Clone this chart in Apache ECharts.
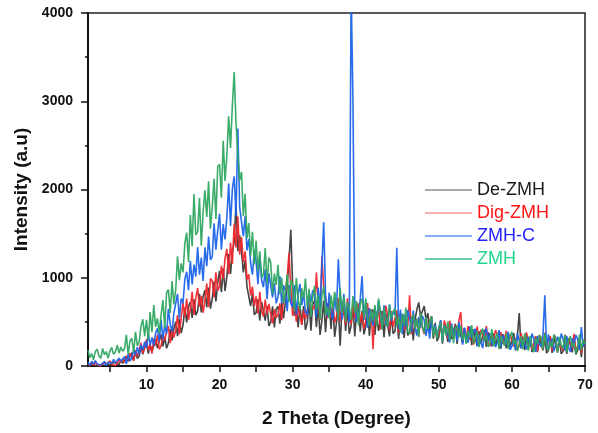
<!DOCTYPE html>
<html>
<head>
<meta charset="utf-8">
<script src="https://cdn.jsdelivr.net/npm/echarts@6/dist/echarts.min.js"></script>
<style>
html,body{margin:0;padding:0;background:#fff;}
#chart{width:598px;height:433px;}
</style>
</head>
<body>
<div id="chart"></div>
<script>
// 2θ sampling positions (degrees)
const theta = [
2,2.25,2.5,2.75,3,3.25,3.5,3.75,4,4.25,4.5,4.75,5,5.25,5.5,5.75,6,6.25,6.5,6.75,
7,7.25,7.5,7.75,8,8.25,8.5,8.75,9,9.25,9.5,9.75,10,10.25,10.5,10.75,11,11.25,11.5,11.75,
12,12.25,12.5,12.75,13,13.25,13.5,13.75,14,14.25,14.5,14.75,15,15.25,15.5,15.75,16,16.25,16.5,16.75,
17,17.25,17.5,17.75,18,18.25,18.5,18.75,19,19.25,19.5,19.75,20,20.25,20.5,20.75,21,21.25,21.5,21.75,
22,22.25,22.5,22.75,23,23.25,23.5,23.75,24,24.25,24.5,24.75,25,25.25,25.5,25.75,26,26.25,26.5,26.75,
27,27.25,27.5,27.75,28,28.25,28.5,28.75,29,29.25,29.5,29.75,30,30.25,30.5,30.75,31,31.25,31.5,31.75,
32,32.25,32.5,32.75,33,33.25,33.5,33.75,34,34.25,34.5,34.75,35,35.25,35.5,35.75,36,36.25,36.5,36.75,
37,37.25,37.5,37.75,38,38.25,38.5,38.75,39,39.25,39.5,39.75,40,40.25,40.5,40.75,41,41.25,41.5,41.75,
42,42.25,42.5,42.75,43,43.25,43.5,43.75,44,44.25,44.5,44.75,45,45.25,45.5,45.75,46,46.25,46.5,46.75,
47,47.25,47.5,47.75,48,48.25,48.5,48.75,49,49.25,49.5,49.75,50,50.25,50.5,50.75,51,51.25,51.5,51.75,
52,52.25,52.5,52.75,53,53.25,53.5,53.75,54,54.25,54.5,54.75,55,55.25,55.5,55.75,56,56.25,56.5,56.75,
57,57.25,57.5,57.75,58,58.25,58.5,58.75,59,59.25,59.5,59.75,60,60.25,60.5,60.75,61,61.25,61.5,61.75,
62,62.25,62.5,62.75,63,63.25,63.5,63.75,64,64.25,64.5,64.75,65,65.25,65.5,65.75,66,66.25,66.5,66.75,
67,67.25,67.5,67.75,68,68.25,68.5,68.75,69,69.25,69.5,69.75,
70
];

// De-ZMH intensity (a.u)
const deZMH = [
20,2,25,5, 5,22,0,18, 25,3,30,8, 10,35,15,38, 55,18,62,30,
37,105,52,112, 152,62,167,84, 112,217,134,209, 260,140,245,162, 180,300,202,285,
357,222,327,200, 260,418,290,425, 502,337,532,374, 464,659,494,674, 725,545,755,575,
622,817,606,787, 859,664,889,649, 761,956,731,941, 1077,836,1107,851, 1012,1267,1042,1297,
1400,1840,1300,1480, 1300,1060,1200,900, 900,680,820,580, 605,755,515,725, 710,515,680,455,
497,677,437,647, 674,479,719,539, 720,900,1200,1545, 900,570,700,440, 694,469,679,409,
489,744,399,699, 741,441,696,351, 517,742,382,697, 720,420,690,330, 490,680,230,660,
696,396,651,366, 455,695,335,635, 674,389,629,359, 447,657,342,612, 637,352,592,397,
415,625,325,595, 605,335,575,365, 396,606,306,561, 587,317,542,347, 380,560,290,530,
640,720,560,620, 680,520,600,400, 520,310,490,280, 329,509,254,479, 485,275,455,305,
296,477,251,447, 454,259,424,274, 265,445,235,415, 422,227,392,257, 247,412,217,382,
401,221,371,236, 227,392,197,362, 381,201,351,216, 207,372,177,342, 600,200,330,180,
355,190,325,160, 202,337,157,322, 342,177,312,147, 179,329,149,314, 332,167,302,137,
166,331,136,316, 334,154,304,132, 180,300,100,290,
220
];

// Dig-ZMH intensity (a.u)
const digZMH = [
30,0,42,8, 40,15,27,0, 10,45,20,38, 57,18,39,6, 32,71,46,78,
40,118,66,144, 157,61,181,109, 126,261,144,207, 301,178,244,140, 313,229,355,187,
227,359,293,392, 453,258,414,323, 403,577,359,548, 716,556,764,524, 648,840,578,770,
883,673,795,603, 744,934,668,991, 967,777,1062,853, 904,1135,988,1219, 1326,1038,1398,1158,
1612,1342,1693,1261, 1460,1180,1300,980, 1040,800,900,680, 788,595,840,630, 560,752,592,704,
706,482,642,546, 582,710,518,758, 820,1000,1280,880, 566,726,502,678, 660,468,628,532,
524,748,604,684, 640,1060,720,520, 1240,880,780,540, 772,545,702,492, 560,770,507,717,
697,470,767,575, 471,692,539,658, 711,490,609,422, 509,713,458,645, 190,650,480,680,
412,604,508,684, 573,413,621,445, 450,630,375,585, 600,405,525,450, 800,360,570,410,
538,335,581,436, 363,552,407,508, 566,363,450,319, 366,501,299,515, 446,311,513,365,
311,460,365,514, 610,275,430,310, 451,295,386,243, 306,449,254,410, 413,283,452,257,
226,358,298,406, 360,204,384,252, 266,398,218,362, 367,223,319,187, 228,372,264,336,
378,234,318,186, 205,337,169,349, 308,188,380,236, 220,340,172,352, 324,156,288,204,
176,356,224,308, 329,197,365,161, 230,314,146,290,
230
];

// ZMH-C intensity (a.u)
const zmhC = [
45,3,54,21, 62,23,41,11, 24,51,3,42, 63,30,75,36, 39,88,56,78,
106,22,134,57, 92,186,126,212, 133,238,181,276, 204,369,237,325, 231,374,426,283,
522,304,464,362, 648,472,392,600, 590,818,538,765, 711,984,1068,858, 1193,923,1148,1013,
1348,1036,1228,964, 1346,1130,1466,1202, 1238,1616,1319,1535, 1724,1318,1608,1434, 1684,2068,1588,2004,
2150,1700,2690,1800, 1790,1470,1700,1310, 1439,1169,1034,1304, 1190,926,1262,974, 893,1095,758,1050,
1070,778,935,710, 788,1019,704,914, 853,622,916,706, 665,917,581,812, 930,690,830,610,
580,840,720,860, 790,550,890,650, 670,1630,810,560, 833,605,529,776, 623,1210,794,528,
817,551,684,494, 4300,3000,730,500, 556,760,1020,519, 711,434,656,563, 458,668,528,738,
600,425,688,495, 443,698,511,613, 580,1340,420,640, 361,585,441,633, 549,389,629,437,
345,555,435,570, 520,340,475,310, 555,367,469,338, 333,521,289,463, 469,361,266,483,
321,443,281,497, 397,241,436,319, 265,447,317,395, 421,226,356,265, 203,372,424,281,
370,238,322,214, 264,408,216,348, 362,242,386,182, 222,318,186,366, 384,204,300,240,
188,332,224,368, 304,160,340,244, 220,352,800,196, 358,226,310,166, 188,332,236,368,
306,174,342,210, 160,316,244,352, 300,180,440,220,
260
];

// ZMH intensity (a.u)
const zmh = [
178,94,142,70, 165,189,117,87, 200,128,164,86, 172,210,132,158, 237,146,216,167,
196,352,131,287, 314,155,387,227, 274,450,530,338, 522,295,610,382, 691,444,539,368,
578,746,431,830, 866,602,962,698, 865,1243,973,1162, 1060,1390,1510,1180, 1710,1358,1950,1486,
1522,1906,1362,1746, 1991,1690,2092,1556, 1805,2120,1665,2260, 2286,1906,2552,2096, 2390,2830,2470,2950,
3330,2750,2400,2100, 2200,1700,1950,1450, 1620,1250,1520,1150, 1420,1080,1300,1000, 1039,1336,931,1228,
1173,816,1046,918, 1146,810,1002,714, 822,1038,726,966, 932,618,1000,752, 632,880,768,992,
666,876,561,792, 908,635,803,530, 794,899,584,668, 540,800,640,840, 720,540,880,600,
784,499,727,651, 526,792,602,735, 459,706,763,535, 767,545,452,637, 506,691,451,765,
623,413,658,535, 445,690,533,620, 649,445,564,377, 595,459,663,391, 362,522,586,426,
534,326,598,454, 375,555,420,495, 565,340,445,310, 439,497,280,468, 347,506,289,463,
259,421,461,326, 455,293,374,252, 397,319,462,254, 252,395,213,369, 424,281,346,216,
262,418,226,322, 372,192,336,276, 230,374,194,338, 388,244,304,172, 251,335,191,371,
306,174,342,222, 157,313,253,349, 322,190,370,226, 176,284,212,356, 305,149,329,233,
195,351,159,291, 336,216,264,144, 226,358,178,298,
250
];

const seriesNames = ['De-ZMH', 'Dig-ZMH', 'ZMH-C', 'ZMH'];
const xTickValues = [5,10,15,20,25,30,35,40,45,50,55,60,65,70];
const xLabelValues = [10,20,30,40,50,60,70];

const lineColors = ['#3a3a3a', '#f0282e', '#1c64ea', '#30a862'];
const legendLineColors = ['#8c8c8c', '#ff9a9a', '#5f97f5', '#3fbf88'];
const legendTextColors = ['#1a1a1a', '#ff1414', '#2424ff', '#1fd68a'];
const values = [deZMH, digZMH, zmhC, zmh];

function pairs(arr) {
  const out = [];
  for (let i = 0; i < theta.length && i < arr.length; i++) out.push([theta[i], arr[i]]);
  return out;
}

const chart = echarts.init(document.getElementById('chart'), null, {renderer: 'canvas'});
const FONT = 'Liberation Sans, Arial, sans-serif';

chart.setOption({
  animation: false,
  backgroundColor: '#fff',
  textStyle: {fontFamily: FONT},
  grid: {left: 88, right: 13, top: 13, bottom: 62, show: true, borderColor: '#222', borderWidth: 1.5, backgroundColor: 'transparent'},
  legend: {
    orient: 'vertical',
    left: 425,
    top: 181,
    padding: 0,
    itemGap: 5,
    itemWidth: 47,
    itemHeight: 1.5,
    icon: 'rect',
    textStyle: {fontSize: 18, lineHeight: 18, fontFamily: FONT},
    data: seriesNames.map((n, i) => ({
      name: n,
      itemStyle: {color: legendLineColors[i]},
      textStyle: {color: legendTextColors[i]}
    }))
  },
  xAxis: {
    type: 'value',
    min: 2,
    max: 70,
    name: '2 Theta (Degree)',
    nameLocation: 'middle',
    nameGap: 43,
    nameTextStyle: {fontSize: 19, fontWeight: 'bold', color: '#111', fontFamily: FONT},
    axisLine: {show: true, lineStyle: {color: '#111', width: 2}},
    axisTick: {show: true, inside: false, length: 6, customValues: xTickValues, lineStyle: {color: '#111', width: 1.5}},
    axisLabel: {customValues: xLabelValues, margin: 12, fontSize: 14, fontWeight: 'bold', color: '#111', fontFamily: FONT},
    splitLine: {show: false}
  },
  yAxis: {
    type: 'value',
    min: 0,
    max: 4000,
    interval: 1000,
    name: 'Intensity (a.u)',
    nameLocation: 'middle',
    nameGap: 49,
    nameTextStyle: {fontSize: 19, fontWeight: 'bold', color: '#111', fontFamily: FONT},
    axisLine: {show: true, lineStyle: {color: '#111', width: 2}},
    axisTick: {show: true, inside: false, length: 7, lineStyle: {color: '#111', width: 1.5}},
    minorTick: {show: true, splitNumber: 2, length: 3, lineStyle: {color: '#111', width: 1.5}},
    axisLabel: {margin: 15, fontSize: 14, fontWeight: 'bold', color: '#111', fontFamily: FONT, formatter: v => String(v)},
    splitLine: {show: false}
  },
  series: seriesNames.map((n, i) => ({
    name: n,
    type: 'line',
    data: pairs(values[i]),
    showSymbol: false,
    symbol: 'none',
    sampling: 'none',
    clip: true,
    color: lineColors[i],
    lineStyle: {color: lineColors[i], width: 1.6, opacity: 0.95, join: 'bevel'},
    emphasis: {disabled: true}
  }))
});
</script>
</body>
</html>
